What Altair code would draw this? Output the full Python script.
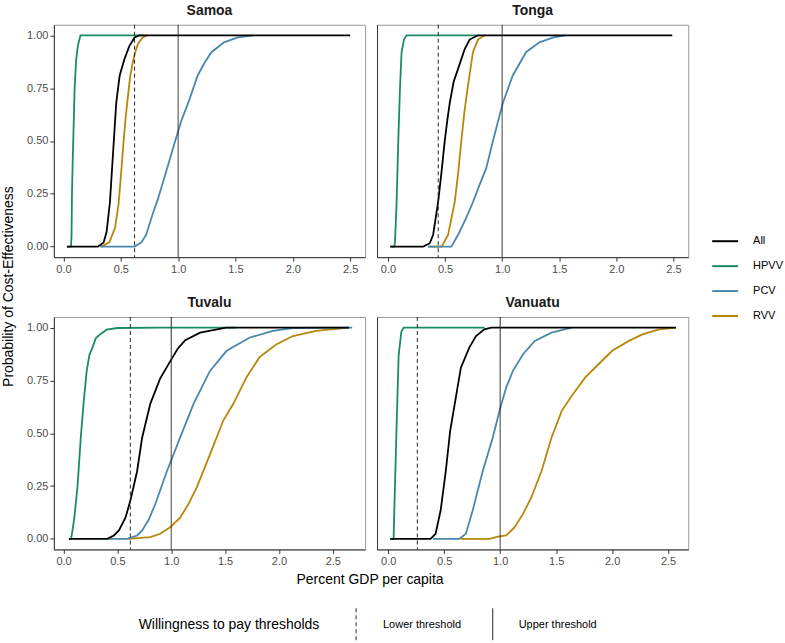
import altair as alt
import pandas as pd

FONT = "Liberation Sans"

COUNTRIES = ["Samoa", "Tonga", "Tuvalu", "Vanuatu"]
VACCINES = ["All", "HPVV", "PCV", "RVV"]
COLORS = ["#000000", "#1A8C64", "#4A87AD", "#B8860B"]
DRAW_ORDER = ["HPVV", "RVV", "PCV", "All"]

X_TICKS = [0.0, 0.5, 1.0, 1.5, 2.0, 2.5]
Y_TICKS = [0.0, 0.25, 0.5, 0.75, 1.0]

# Cost-effectiveness acceptability curves: threshold (% GDP per capita) vs probability
samoa_hpvv_x = [0.03, 0.065, 0.07, 0.074, 0.08, 0.085, 0.097, 0.11, 0.125, 0.148, 0.7]
samoa_hpvv_p = [0, 0, 0.05, 0.25, 0.4, 0.5, 0.75, 0.88, 0.95, 1, 1]
samoa_pcv_x = [0.32, 0.62, 0.68, 0.72, 0.775, 0.82, 0.86, 0.92, 0.974, 1.03, 1.088, 1.17, 1.23, 1.29, 1.4, 1.52, 1.66]
samoa_pcv_p = [0, 0, 0.02, 0.055, 0.15, 0.22, 0.29, 0.4, 0.5, 0.6, 0.68, 0.81, 0.87, 0.92, 0.967, 0.99, 1]
samoa_rvv_x = [0.33, 0.4, 0.45, 0.48, 0.5, 0.52, 0.54, 0.56, 0.58, 0.6, 0.62, 0.65, 0.69, 0.73]
samoa_rvv_p = [0, 0.02, 0.09, 0.2, 0.33, 0.47, 0.6, 0.7, 0.8, 0.86, 0.91, 0.96, 0.99, 1]
samoa_all_x = [0.03, 0.3, 0.35, 0.376, 0.405, 0.433, 0.46, 0.49, 0.533, 0.575, 0.62, 0.66, 2.5]
samoa_all_p = [0, 0, 0.02, 0.07, 0.21, 0.45, 0.68, 0.81, 0.89, 0.95, 0.99, 1, 1]

tonga_hpvv_x = [0.02, 0.055, 0.061, 0.075, 0.09, 0.105, 0.119, 0.14, 0.163, 0.8]
tonga_hpvv_p = [0, 0, 0.02, 0.2, 0.5, 0.75, 0.92, 0.98, 1, 1]
tonga_pcv_x = [0.35, 0.555, 0.613, 0.68, 0.744, 0.8, 0.86, 0.919, 1.006, 1.093, 1.209, 1.326, 1.45, 1.558]
tonga_pcv_p = [0, 0, 0.055, 0.13, 0.21, 0.29, 0.37, 0.5, 0.68, 0.81, 0.92, 0.967, 0.99, 1]
tonga_rvv_x = [0.35, 0.47, 0.526, 0.584, 0.615, 0.642, 0.67, 0.7, 0.744, 0.788, 0.846]
tonga_rvv_p = [0, 0, 0.055, 0.21, 0.35, 0.5, 0.64, 0.76, 0.92, 0.98, 1]
tonga_all_x = [0.02, 0.308, 0.366, 0.395, 0.439, 0.47, 0.497, 0.52, 0.541, 0.575, 0.613, 0.672, 0.715, 0.788, 2.49]
tonga_all_p = [0, 0, 0.016, 0.055, 0.21, 0.36, 0.5, 0.6, 0.68, 0.78, 0.84, 0.935, 0.98, 1, 1]

tuvalu_hpvv_x = [0.05, 0.07, 0.083, 0.1, 0.129, 0.16, 0.185, 0.215, 0.24, 0.268, 0.3, 0.345, 0.4, 0.5, 0.9, 1.6]
tuvalu_hpvv_p = [0, 0, 0.04, 0.1, 0.244, 0.48, 0.638, 0.795, 0.87, 0.905, 0.95, 0.97, 0.99, 0.998, 1, 1]
tuvalu_pcv_x = [0.4, 0.59, 0.683, 0.73, 0.79, 0.852, 0.96, 1.083, 1.206, 1.36, 1.514, 1.73, 1.945, 2.13, 2.68]
tuvalu_pcv_p = [0, 0, 0.016, 0.04, 0.09, 0.165, 0.32, 0.48, 0.638, 0.795, 0.89, 0.953, 0.984, 0.998, 1]
tuvalu_rvv_x = [0.6, 0.806, 0.898, 0.99, 1.083, 1.16, 1.237, 1.36, 1.483, 1.575, 1.698, 1.82, 1.975, 2.13, 2.345, 2.652]
tuvalu_rvv_p = [0, 0.008, 0.024, 0.055, 0.1, 0.165, 0.244, 0.4, 0.56, 0.638, 0.764, 0.86, 0.92, 0.96, 0.984, 1]
tuvalu_all_x = [0.05, 0.406, 0.468, 0.514, 0.575, 0.62, 0.683, 0.73, 0.806, 0.898, 0.99, 1.06, 1.13, 1.268, 1.51, 2.65]
tuvalu_all_p = [0, 0, 0.016, 0.04, 0.1, 0.18, 0.32, 0.48, 0.64, 0.76, 0.84, 0.9, 0.94, 0.976, 1, 1]

vanuatu_hpvv_x = [0.018, 0.048, 0.06, 0.072, 0.093, 0.117, 0.138, 0.86]
vanuatu_hpvv_p = [0, 0, 0.25, 0.48, 0.87, 0.98, 1, 1]
vanuatu_pcv_x = [0.4, 0.634, 0.694, 0.754, 0.844, 0.934, 0.994, 1.054, 1.114, 1.204, 1.309, 1.459, 1.64]
vanuatu_pcv_p = [0, 0, 0.024, 0.134, 0.32, 0.48, 0.606, 0.717, 0.795, 0.874, 0.937, 0.976, 1]
vanuatu_rvv_x = [0.649, 0.904, 0.979, 1.054, 1.129, 1.204, 1.279, 1.369, 1.459, 1.55, 1.64, 1.76, 1.91, 2.0, 2.15, 2.27, 2.42, 2.57]
vanuatu_rvv_p = [0, 0, 0.011, 0.016, 0.055, 0.118, 0.197, 0.32, 0.48, 0.606, 0.677, 0.764, 0.843, 0.89, 0.937, 0.968, 0.992, 1]
vanuatu_all_x = [0.018, 0.378, 0.423, 0.468, 0.514, 0.553, 0.604, 0.649, 0.724, 0.784, 0.859, 0.92, 2.57]
vanuatu_all_p = [0, 0, 0.024, 0.134, 0.32, 0.51, 0.67, 0.81, 0.905, 0.96, 0.992, 1, 1]

# Willingness-to-pay thresholds per country
LOWER_THRESHOLD = [0.62, 0.44, 0.62, 0.26]
UPPER_THRESHOLD = [1.0, 1.0, 1.0, 1.0]

# x-axis range of each free-scaled panel
X_DOMAINS = [[-0.084, 2.63], [-0.096, 2.63], [-0.09, 2.80], [-0.10, 2.68]]

CURVES = {
    "Samoa": {"HPVV": (samoa_hpvv_x, samoa_hpvv_p), "PCV": (samoa_pcv_x, samoa_pcv_p),
              "RVV": (samoa_rvv_x, samoa_rvv_p), "All": (samoa_all_x, samoa_all_p)},
    "Tonga": {"HPVV": (tonga_hpvv_x, tonga_hpvv_p), "PCV": (tonga_pcv_x, tonga_pcv_p),
              "RVV": (tonga_rvv_x, tonga_rvv_p), "All": (tonga_all_x, tonga_all_p)},
    "Tuvalu": {"HPVV": (tuvalu_hpvv_x, tuvalu_hpvv_p), "PCV": (tuvalu_pcv_x, tuvalu_pcv_p),
               "RVV": (tuvalu_rvv_x, tuvalu_rvv_p), "All": (tuvalu_all_x, tuvalu_all_p)},
    "Vanuatu": {"HPVV": (vanuatu_hpvv_x, vanuatu_hpvv_p), "PCV": (vanuatu_pcv_x, vanuatu_pcv_p),
                "RVV": (vanuatu_rvv_x, vanuatu_rvv_p), "All": (vanuatu_all_x, vanuatu_all_p)},
}

W, H = 312, 233
AXIS_DARK = "#333333"
LABEL_GREY = "#4D4D4D"

color_legend = alt.Legend(
    title=None, orient="none", legendX=659, legendY=203,
    symbolType="stroke", symbolSize=676, symbolStrokeWidth=2,
    labelFont=FONT, labelFontSize=11, labelColor="#000000",
    labelOffset=14, rowPadding=6,
)


def one_row(**kw):
    return pd.DataFrame([kw])


def panel(i, country):
    rows = []
    for vac in DRAW_ORDER:
        xs, ps = CURVES[country][vac]
        for k, (xv, pv) in enumerate(zip(xs, ps)):
            rows.append({"x": xv, "p": pv, "vaccine": vac, "k": k})
    df = pd.DataFrame(rows)
    left = i % 2 == 0

    x_axis = alt.Axis(values=X_TICKS, format=".1f", title=None, grid=False,
                      labelFont=FONT, labelFontSize=11, labelColor=LABEL_GREY,
                      tickColor=AXIS_DARK, tickSize=4, labelPadding=2,
                      domainColor=AXIS_DARK, labelFlush=False)
    if left:
        y_axis = alt.Axis(values=Y_TICKS, format=".2f", title=None, grid=False,
                          labelFont=FONT, labelFontSize=11, labelColor=LABEL_GREY,
                          tickColor=AXIS_DARK, tickSize=4, labelPadding=2,
                          domainColor=AXIS_DARK)
    else:
        y_axis = alt.Axis(values=Y_TICKS, title=None, grid=False, labels=False,
                          ticks=False, domainColor=AXIS_DARK)

    x_scale = alt.Scale(domain=X_DOMAINS[i], nice=False, zero=False)
    y_scale = alt.Scale(domain=[-0.05, 1.05], nice=False, zero=False)

    lines = alt.Chart(df).mark_line(strokeWidth=1.8, clip=True).encode(
        x=alt.X("x:Q", scale=x_scale, axis=x_axis),
        y=alt.Y("p:Q", scale=y_scale, axis=y_axis),
        color=alt.Color("vaccine:N", scale=alt.Scale(domain=VACCINES, range=COLORS),
                        legend=color_legend),
        order=alt.Order("k:Q"),
    )

    thr = pd.DataFrame({
        "value": [LOWER_THRESHOLD[i], UPPER_THRESHOLD[i]],
        "threshold": ["Lower threshold", "Upper threshold"],
    })
    rules = alt.Chart(thr).mark_rule(color="#262626", strokeWidth=1).encode(
        x=alt.X("value:Q", scale=x_scale),
        strokeDash=alt.StrokeDash(
            "threshold:N",
            scale=alt.Scale(domain=["Lower threshold", "Upper threshold"],
                            range=[[4, 3], [1, 0]]),
            legend=None,
        ),
    )

    title = alt.Chart(one_row(t=country)).mark_text(
        font=FONT, fontSize=14, fontWeight="bold", color="#1A1A1A",
        align="center", baseline="middle",
    ).encode(x=alt.value(W / 2), y=alt.value(-14), text="t:N")

    layers = [lines, rules, title]

    if i == 0:
        # canvas frame, shared axis titles and the threshold key
        frame = alt.Chart(one_row(a=1)).mark_rect(opacity=0).encode(
            x=alt.value(-53), x2=alt.value(732), y=alt.value(-23), y2=alt.value(620))
        y_title = alt.Chart(one_row(t="Probability of Cost-Effectiveness")).mark_text(
            font=FONT, fontSize=14, angle=270, align="center", baseline="middle",
            color="#000000",
        ).encode(x=alt.value(-45), y=alt.value(262.5), text="t:N")
        x_title = alt.Chart(one_row(t="Percent GDP per capita")).mark_text(
            font=FONT, fontSize=14, align="center", baseline="middle", color="#000000",
        ).encode(x=alt.value(317), y=alt.value(557), text="t:N")
        key_title = alt.Chart(one_row(t="Willingness to pay thresholds")).mark_text(
            font=FONT, fontSize=14, align="left", baseline="middle", color="#000000",
        ).encode(x=alt.value(85), y=alt.value(602), text="t:N")
        key_lower = alt.Chart(one_row(a=1)).mark_rule(
            color="#262626", strokeWidth=1, strokeDash=[4, 3]
        ).encode(x=alt.value(303), y=alt.value(585), y2=alt.value(617))
        key_upper = alt.Chart(one_row(a=1)).mark_rule(
            color="#262626", strokeWidth=1
        ).encode(x=alt.value(440), y=alt.value(585), y2=alt.value(617))
        key_labels = alt.Chart(pd.DataFrame({
            "t": ["Lower threshold", "Upper threshold"], "px": [330, 466]
        })).mark_text(
            font=FONT, fontSize=11, align="left", baseline="middle", color="#000000",
        ).encode(x=alt.X("px:Q", scale=None), y=alt.value(602), text="t:N")
        layers = [frame] + layers + [y_title, x_title, key_title, key_lower, key_upper, key_labels]

    return alt.layer(*layers).properties(width=W, height=H)


panels = [panel(i, c) for i, c in enumerate(COUNTRIES)]

chart = alt.concat(
    *panels, columns=2, spacing={"row": 60, "column": 12}, bounds="flush"
).resolve_scale(
    x="independent"
).properties(
    padding=0
).configure_view(
    stroke="#9A9A9A", strokeWidth=1
)

chart.save("out.html", embed_options={"renderer": "svg", "actions": False})
